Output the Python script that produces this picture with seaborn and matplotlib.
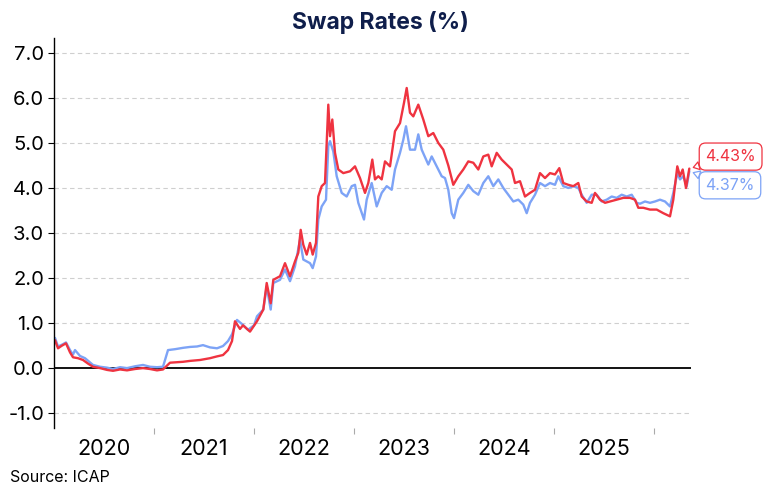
import seaborn as sns
import matplotlib.pyplot as plt
import pandas as pd

# red series (decimal year, %)
red_dates = [2020.01, 2020.04, 2020.08, 2020.12, 2020.16, 2020.19, 2020.24, 2020.29, 2020.34, 2020.39,
             2020.46, 2020.53, 2020.59, 2020.66, 2020.73, 2020.81, 2020.89, 2020.96, 2021.03, 2021.09,
             2021.16, 2021.23, 2021.29, 2021.36, 2021.46, 2021.56, 2021.63, 2021.69, 2021.74, 2021.78,
             2021.81, 2021.86, 2021.89, 2021.96, 2022.03, 2022.093, 2022.127, 2022.167, 2022.193, 2022.26,
             2022.31, 2022.36, 2022.41, 2022.443, 2022.467, 2022.493, 2022.527, 2022.56, 2022.587, 2022.62,
             2022.643, 2022.677, 2022.71, 2022.743, 2022.76, 2022.783, 2022.81, 2022.843, 2022.893, 2022.96,
             2023.01, 2023.06, 2023.11, 2023.143, 2023.183, 2023.21, 2023.243, 2023.277, 2023.31, 2023.36,
             2023.41, 2023.46, 2023.50, 2023.527, 2023.56, 2023.593, 2023.643, 2023.693, 2023.743, 2023.793,
             2023.843, 2023.893, 2023.943, 2023.993, 2024.043, 2024.093, 2024.143, 2024.193, 2024.243, 2024.293,
             2024.343, 2024.377, 2024.427, 2024.477, 2024.527, 2024.577, 2024.61, 2024.66, 2024.71, 2024.76,
             2024.81, 2024.86, 2024.91, 2024.96, 2025.01, 2025.053, 2025.093, 2025.143, 2025.193, 2025.243,
             2025.277, 2025.327, 2025.377, 2025.41, 2025.46, 2025.51, 2025.56, 2025.627, 2025.693, 2025.76,
             2025.81, 2025.843, 2025.893, 2025.96, 2026.027, 2026.093, 2026.16, 2026.193, 2026.233, 2026.26,
             2026.287, 2026.32, 2026.353]
red_rates = [0.62, 0.44, 0.50, 0.55, 0.35, 0.24, 0.22, 0.18, 0.10, 0.03,
             0.00, -0.04, -0.06, -0.03, -0.05, -0.02, 0.00, -0.02, -0.05, -0.03,
             0.12, 0.13, 0.14, 0.16, 0.18, 0.22, 0.26, 0.29, 0.40, 0.60,
             1.04, 0.87, 0.95, 0.81, 1.04, 1.30, 1.89, 1.44, 1.96, 2.04,
             2.33, 2.04, 2.37, 2.56, 3.07, 2.74, 2.52, 2.78, 2.52, 2.78,
             3.81, 4.04, 4.11, 5.85, 5.15, 5.52, 4.78, 4.41, 4.33, 4.37,
             4.48, 4.22, 3.89, 4.11, 4.63, 4.19, 4.26, 4.19, 4.59, 4.48,
             5.26, 5.44, 5.89, 6.22, 5.67, 5.59, 5.85, 5.52, 5.15, 5.22,
             5.00, 4.85, 4.50, 4.07, 4.26, 4.41, 4.59, 4.56, 4.41, 4.70,
             4.74, 4.48, 4.78, 4.63, 4.52, 4.41, 4.11, 4.15, 3.81, 3.89,
             3.96, 4.33, 4.22, 4.33, 4.30, 4.44, 4.11, 4.07, 4.04, 4.11,
             3.81, 3.70, 3.67, 3.89, 3.74, 3.67, 3.70, 3.74, 3.78, 3.78,
             3.74, 3.56, 3.56, 3.52, 3.52, 3.44, 3.37, 3.74, 4.48, 4.26,
             4.41, 4.00, 4.43]

# blue series (decimal year, %)
blue_dates = [2020.01, 2020.04, 2020.08, 2020.12, 2020.16, 2020.19, 2020.21, 2020.26, 2020.31, 2020.39,
              2020.46, 2020.53, 2020.59, 2020.66, 2020.73, 2020.81, 2020.89, 2020.96, 2021.03, 2021.09,
              2021.14, 2021.21, 2021.29, 2021.36, 2021.43, 2021.49, 2021.56, 2021.63, 2021.69, 2021.74,
              2021.78, 2021.83, 2021.89, 2021.94, 2022.00, 2022.03, 2022.093, 2022.127, 2022.167, 2022.193,
              2022.26, 2022.31, 2022.36, 2022.41, 2022.46, 2022.493, 2022.527, 2022.56, 2022.587, 2022.62,
              2022.643, 2022.677, 2022.72, 2022.743, 2022.76, 2022.793, 2022.827, 2022.877, 2022.927, 2022.977,
              2023.01, 2023.043, 2023.10, 2023.127, 2023.177, 2023.227, 2023.277, 2023.327, 2023.377, 2023.41,
              2023.46, 2023.493, 2023.52, 2023.56, 2023.61, 2023.643, 2023.677, 2023.743, 2023.777, 2023.827,
              2023.877, 2023.91, 2023.943, 2023.977, 2024.00, 2024.043, 2024.093, 2024.143, 2024.193, 2024.243,
              2024.293, 2024.343, 2024.393, 2024.443, 2024.493, 2024.543, 2024.593, 2024.643, 2024.693, 2024.727,
              2024.76, 2024.81, 2024.86, 2024.91, 2024.96, 2025.01, 2025.043, 2025.093, 2025.143, 2025.193,
              2025.243, 2025.277, 2025.327, 2025.377, 2025.427, 2025.477, 2025.527, 2025.577, 2025.627, 2025.677,
              2025.727, 2025.777, 2025.827, 2025.86, 2025.91, 2025.96, 2026.01, 2026.06, 2026.11, 2026.16,
              2026.193, 2026.233, 2026.26, 2026.293, 2026.327, 2026.353]
blue_rates = [0.67, 0.48, 0.52, 0.57, 0.40, 0.30, 0.40, 0.27, 0.22, 0.07,
              0.03, 0.01, -0.02, 0.02, 0.00, 0.04, 0.07, 0.03, 0.02, 0.03,
              0.40, 0.42, 0.45, 0.47, 0.48, 0.51, 0.46, 0.44, 0.49, 0.60,
              0.75, 1.07, 0.96, 0.85, 0.95, 1.15, 1.30, 1.81, 1.30, 1.89,
              1.96, 2.19, 1.93, 2.26, 2.85, 2.41, 2.37, 2.33, 2.22, 2.48,
              3.30, 3.59, 3.74, 4.93, 5.04, 4.81, 4.26, 3.89, 3.81, 4.04,
              4.07, 3.67, 3.30, 3.74, 4.11, 3.59, 3.89, 4.04, 3.96, 4.41,
              4.78, 5.07, 5.37, 4.85, 4.85, 5.19, 4.85, 4.52, 4.70, 4.48,
              4.26, 4.22, 3.96, 3.44, 3.33, 3.74, 3.89, 4.07, 3.93, 3.85,
              4.11, 4.26, 4.04, 4.19, 4.00, 3.85, 3.70, 3.74, 3.63, 3.44,
              3.67, 3.85, 4.11, 4.04, 4.11, 4.07, 4.26, 4.04, 4.00, 4.04,
              4.00, 3.85, 3.67, 3.85, 3.85, 3.70, 3.74, 3.81, 3.78, 3.85,
              3.81, 3.85, 3.67, 3.65, 3.70, 3.67, 3.70, 3.74, 3.70, 3.59,
              3.89, 4.33, 4.19, 4.26, 4.04, 4.37]

year_labels = ["2020", "2021", "2022", "2023", "2024", "2025"]
y_ticks = [-1, 0, 1, 2, 3, 4, 5, 6, 7]

red = "#EF3340"
blue = "#7DA3F6"
navy = "#0F1E4B"

sns.set_theme(style="white")
plt.rcParams["font.family"] = ["Inter", "DejaVu Sans"]

fig = plt.figure(figsize=(7.65, 5), dpi=100)
ax = fig.add_axes([54 / 765, 1 - 428 / 500, (691 - 54) / 765, (428 - 38) / 500])

df_blue = pd.DataFrame({"date": blue_dates, "rate": blue_rates})
df_red = pd.DataFrame({"date": red_dates, "rate": red_rates})
sns.lineplot(data=df_blue, x="date", y="rate", color=blue, linewidth=1.7, ax=ax)
sns.lineplot(data=df_red, x="date", y="rate", color=red, linewidth=1.7, ax=ax)

ax.set_xlim(2020.0, 2026.37)
ax.set_ylim(-1.33, 7.33)

# grid + zero line
for v in y_ticks:
    if v != 0:
        ax.axhline(v, color="#cfcfcf", lw=0.8, ls=(0, (4, 3)), zorder=0)
ax.axhline(0, color="black", lw=1.3, zorder=1)

for s in ["top", "right", "bottom"]:
    ax.spines[s].set_visible(False)
ax.spines["left"].set_color("black")
ax.spines["left"].set_linewidth(1.0)

ax.set_yticks(y_ticks)
ax.set_yticklabels([f"{v:.1f}" for v in y_ticks], fontsize=14.5, color="black")
ax.tick_params(axis="y", which="major", direction="out", length=4, width=0.8, color="black", pad=3, left=True)

years = [2021, 2022, 2023, 2024, 2025, 2026]
ax.set_xticks(years)
ax.set_xticklabels([""] * len(years))
ax.tick_params(axis="x", which="major", direction="out", length=4, width=0.8, color="#aaaaaa", bottom=True)
ax.set_xticks([int(y) + 0.5 for y in year_labels], minor=True)
ax.set_xticklabels(year_labels, minor=True, fontsize=15.5, color="black")
ax.tick_params(axis="x", which="minor", length=0, pad=8)
ax.set_xlabel("")
ax.set_ylabel("")

# end labels
for dates, rates, col, dy in [(red_dates, red_rates, red, 12), (blue_dates, blue_rates, blue, -14)]:
    ax.annotate(f"{rates[-1]:.2f}%", xy=(dates[-1], rates[-1]), xytext=(16, dy),
                textcoords="offset pixels", ha="left", va="center", fontsize=11.5, color=col,
                bbox=dict(boxstyle="round,pad=0.38,rounding_size=0.4", fc="white", ec=col, lw=0.9),
                arrowprops=dict(arrowstyle="wedge,tail_width=0.5", fc="white", ec=col, lw=0.9,
                                shrinkA=0, shrinkB=3),
                annotation_clip=False, zorder=5)

fig.text(0.497, 1 - 22 / 500, "Swap Rates (%)", ha="center", va="center",
         fontsize=16.5, fontweight="bold", color=navy)
fig.text(10 / 765, 1 - 478 / 500, "Source: ICAP", ha="left", va="center", fontsize=11.5, color="black")

fig.savefig("out.png", dpi=100)
